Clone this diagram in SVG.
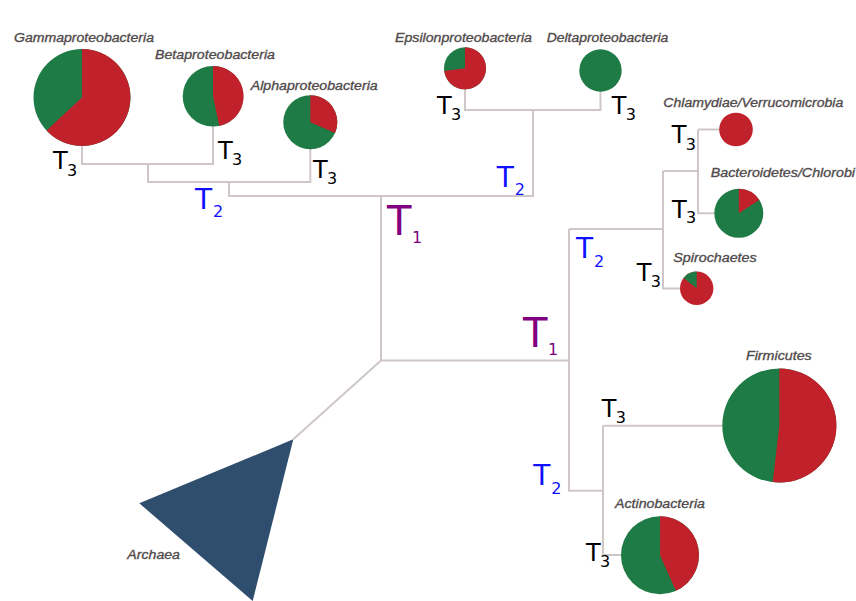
<svg xmlns="http://www.w3.org/2000/svg" width="856" height="601" viewBox="0 0 856 601">
  <style>
    .edge { fill: none; stroke: #cfc7c7; stroke-width: 2; }
    .grn { fill: #1e7b45; }
    .red { fill: #c0212b; }
    .taxon { font-family: "Liberation Sans", Arial, sans-serif; font-style: italic; font-size: 13.5px; fill: #474141; stroke: #5e5858; stroke-width: 0.35; }
    .t { font-family: "DejaVu Sans", sans-serif; }
    .t3 { font-size: 24px; fill: #000; }
    .t2 { font-size: 28px; fill: #1010ff; }
    .t1 { font-size: 40px; fill: #800080; }
    .sub { font-size: 16px; }
  </style>
  <rect width="856" height="601" fill="#ffffff"/>

  <!-- tree branches -->
  <g id="connectors">
    <path class="edge" d="M82,146 V164 H213 V126"/>
    <path class="edge" d="M148,164 V182 H310.3 V149"/>
    <path class="edge" d="M229,182 V196 H533 V110"/>
    <path class="edge" d="M465,89 V110 H600.5 V91"/>
    <path class="edge" d="M381,196 V360.5 H569"/>
    <path class="edge" d="M381,360.5 L293.3,439.3"/>
    <path class="edge" d="M569,229 V490.7 H603"/>
    <path class="edge" d="M569,229 H663"/>
    <path class="edge" d="M663,171 V288.5 H680"/>
    <path class="edge" d="M663,171 H698"/>
    <path class="edge" d="M698,129.5 V213.3 H714.3"/>
    <path class="edge" d="M698,129.5 H719.3"/>
    <path class="edge" d="M603,425.7 V555 H621"/>
    <path class="edge" d="M603,425.7 H722.7"/>
  </g>

  <!-- rank labels -->
  <g id="rank-labels" class="t">
    <text class="t3" x="53" y="169">T<tspan class="sub" x="67" y="176">3</tspan></text>
    <text class="t3" x="218" y="158.5">T<tspan class="sub" x="232" y="165">3</tspan></text>
    <text class="t3" x="313" y="177.5">T<tspan class="sub" x="327" y="183.5">3</tspan></text>
    <text class="t3" x="437" y="114">T<tspan class="sub" x="451" y="119.5">3</tspan></text>
    <text class="t3" x="611.7" y="114">T<tspan class="sub" x="625.7" y="119.5">3</tspan></text>
    <text class="t3" x="671.7" y="143">T<tspan class="sub" x="685.7" y="149.5">3</tspan></text>
    <text class="t3" x="672" y="217.5">T<tspan class="sub" x="686" y="223">3</tspan></text>
    <text class="t3" x="636.7" y="281">T<tspan class="sub" x="650.7" y="287">3</tspan></text>
    <text class="t3" x="601.7" y="417">T<tspan class="sub" x="615.7" y="423">3</tspan></text>
    <text class="t3" x="586" y="561">T<tspan class="sub" x="600" y="567">3</tspan></text>

    <text class="t2" x="195" y="208.5">T<tspan class="sub" x="213" y="217">2</tspan></text>
    <text class="t2" x="496.7" y="186.5">T<tspan class="sub" x="514.7" y="195">2</tspan></text>
    <text class="t2" x="576" y="258">T<tspan class="sub" x="594" y="266.5">2</tspan></text>
    <text class="t2" x="533.3" y="485">T<tspan class="sub" x="551.3" y="493.5">2</tspan></text>

    <text class="t1" x="387" y="235">T<tspan class="sub" x="412" y="243">1</tspan></text>
    <text class="t1" x="523" y="347">T<tspan class="sub" x="548" y="355">1</tspan></text>
  </g>

  <!-- taxa: pie = share of two classes -->
  <g id="gammaproteobacteria">
    <circle class="grn" cx="82" cy="97.5" r="48.5"/>
    <path class="red" d="M82,97.5 L82,49 A48.5,48.5 0 1 1 46.5,130.6 Z"/>
    <text class="taxon" x="14" y="42" textLength="140" lengthAdjust="spacingAndGlyphs">Gammaproteobacteria</text>
  </g>
  <g id="betaproteobacteria">
    <circle class="grn" cx="213" cy="96.3" r="30.3"/>
    <path class="red" d="M213,96.3 L213,66 A30.3,30.3 0 0 1 219.3,126 Z"/>
    <text class="taxon" x="155" y="59" textLength="120" lengthAdjust="spacingAndGlyphs">Betaproteobacteria</text>
  </g>
  <g id="alphaproteobacteria">
    <circle class="grn" cx="310.3" cy="122.2" r="27"/>
    <path class="red" d="M310.3,122.2 L310.3,95.2 A27,27 0 0 1 335,133 Z"/>
    <text class="taxon" x="250.7" y="89.5" textLength="127" lengthAdjust="spacingAndGlyphs">Alphaproteobacteria</text>
  </g>
  <g id="epsilonproteobacteria">
    <circle class="grn" cx="465" cy="68.3" r="21"/>
    <path class="red" d="M465,68.3 L465,47.3 A21,21 0 1 1 444.2,71 Z"/>
    <text class="taxon" x="395" y="42" textLength="137" lengthAdjust="spacingAndGlyphs">Epsilonproteobacteria</text>
  </g>
  <g id="deltaproteobacteria">
    <circle class="grn" cx="600.5" cy="70.5" r="21.2"/>
    <text class="taxon" x="546.7" y="42" textLength="121.6" lengthAdjust="spacingAndGlyphs">Deltaproteobacteria</text>
  </g>
  <g id="chlamydiae-verrucomicrobia">
    <circle class="red" cx="736" cy="129.5" r="16.8"/>
    <text class="taxon" x="663.3" y="106.5" textLength="180" lengthAdjust="spacingAndGlyphs">Chlamydiae/Verrucomicrobia</text>
  </g>
  <g id="bacteroidetes-chlorobi">
    <circle class="grn" cx="738.8" cy="213.3" r="24.5"/>
    <path class="red" d="M738.8,213.3 L738.8,188.8 A24.5,24.5 0 0 1 759.3,200 Z"/>
    <text class="taxon" x="710.7" y="177" textLength="144.3" lengthAdjust="spacingAndGlyphs">Bacteroidetes/Chlorobi</text>
  </g>
  <g id="spirochaetes">
    <circle class="red" cx="696.7" cy="288.3" r="16.7"/>
    <path class="grn" d="M696.7,288.3 L683.5,278.1 A16.7,16.7 0 0 1 696.7,271.6 Z"/>
    <text class="taxon" x="673.3" y="261.5" textLength="83.4" lengthAdjust="spacingAndGlyphs">Spirochaetes</text>
  </g>
  <g id="firmicutes">
    <circle class="grn" cx="779.3" cy="425.5" r="57"/>
    <path class="red" d="M779.3,425.5 L779.3,368.5 A57,57 0 1 1 772.75,482.1 Z"/>
    <text class="taxon" x="746" y="360" textLength="65.7" lengthAdjust="spacingAndGlyphs">Firmicutes</text>
  </g>
  <g id="actinobacteria">
    <circle class="grn" cx="660" cy="555.2" r="39"/>
    <path class="red" d="M660,555.2 L660,516.2 A39,39 0 0 1 675.9,590.8 Z"/>
    <text class="taxon" x="615" y="508" textLength="90" lengthAdjust="spacingAndGlyphs">Actinobacteria</text>
  </g>
  <g id="archaea">
    <polygon points="293.3,439.3 139.3,503.3 252.7,601" fill="#2f4e6e"/>
    <text class="taxon" x="127.3" y="559" textLength="52.7" lengthAdjust="spacingAndGlyphs">Archaea</text>
  </g>
</svg>
